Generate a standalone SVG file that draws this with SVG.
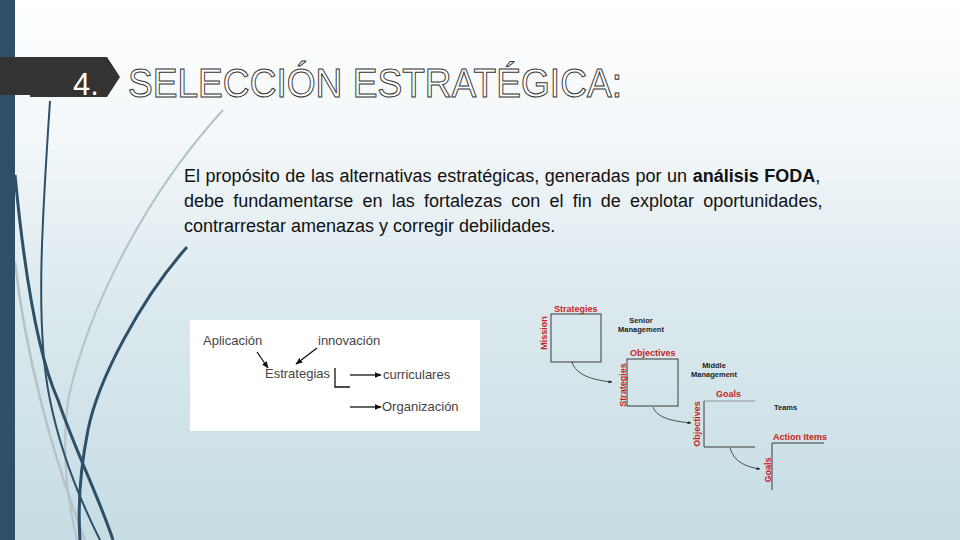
<svg xmlns="http://www.w3.org/2000/svg" width="960" height="540" viewBox="0 0 960 540">
<defs>
<linearGradient id="bg" x1="0" y1="0" x2="0" y2="1">
<stop offset="0" stop-color="#ffffff"/>
<stop offset="0.25" stop-color="#f3f7f9"/>
<stop offset="0.6" stop-color="#d9e8ed"/>
<stop offset="1" stop-color="#c6dde4"/>
</linearGradient>
<marker id="ah" viewBox="0 0 10 10" refX="9" refY="5" markerWidth="7" markerHeight="7" orient="auto" markerUnits="userSpaceOnUse">
<path d="M0,1 L10,5 L0,9 z" fill="#111"/>
</marker>
<marker id="ahs" viewBox="0 0 10 10" refX="9" refY="5" markerWidth="4" markerHeight="4" orient="auto" markerUnits="userSpaceOnUse">
<path d="M0,1 L10,5 L0,9 z" fill="#222"/>
</marker>
<style>
.para{font-family:"Liberation Sans",Arial,sans-serif;font-size:18px;fill:#111}
.lbl{font-family:"Liberation Sans",Arial,sans-serif;font-size:13px;fill:#444}
.red{font-family:"Liberation Sans",Arial,sans-serif;font-size:9px;font-weight:bold;fill:#c81e1e}
.blk{font-family:"Liberation Sans",Arial,sans-serif;font-size:7.5px;font-weight:bold;fill:#222}
.ln{stroke:#111;stroke-width:1.3;fill:none}
.box{stroke:#3a3a3a;stroke-width:1;fill:none}
.cv{stroke:#2a2a2a;stroke-width:0.8;fill:none}
.dk{stroke:#2d5068;fill:none}
.gr{stroke:#b4c3c8;fill:none}
</style>
</defs>
<rect x="0" y="0" width="960" height="540" fill="url(#bg)"/>
<g id="decor">
<path class="gr" stroke-width="2" d="M223,110 C150,190 90,300 68,400 C60,460 70,510 77,540"/>
<path class="gr" stroke-width="2.5" d="M15,262 C25,350 50,450 85,540"/>
<path class="dk" stroke-width="2" d="M50,101 C42,220 35,330 50,400 C62,460 85,510 100,540"/>
<path class="dk" stroke-width="3" d="M15,175 C25,280 40,360 58,400 C75,450 100,500 113,540"/>
<path class="dk" stroke-width="3" d="M187,247 C140,300 98,380 88,430 C80,470 78,510 80,540"/>
</g>
<rect x="0" y="0" width="15" height="540" fill="#2d5068"/>
<g id="title">
<path d="M0,57 L107,57 L120,77 L107,97 L30,97 L30,95 L0,95 z" fill="#333333"/>
<text x="73" y="95" font-family="'Liberation Sans',Arial,sans-serif" font-size="31" fill="#ffffff">4.</text>
<text x="128" y="97" font-family="'Liberation Sans',Arial,sans-serif" font-size="40" fill="#ffffff" stroke="#333" stroke-width="1" textLength="494" lengthAdjust="spacingAndGlyphs">SELECCIÓN ESTRATÉGICA:</text>
</g>
<g id="paragraph">
<text class="para" x="184" y="182" word-spacing="0.6">El propósito de las alternativas estratégicas, generadas por un <tspan font-weight="bold">análisis FODA</tspan>,</text>
<text class="para" x="184" y="207" word-spacing="4.2">debe fundamentarse en las fortalezas con el fin de explotar oportunidades,</text>
<text class="para" x="184" y="232">contrarrestar amenazas y corregir debilidades.</text>
</g>
<g id="estrategias-diagram">
<rect x="190" y="320" width="290" height="111" fill="#ffffff"/>
<g id="n-aplicacion"><text class="lbl" x="203" y="345">Aplicación</text></g>
<g id="n-innovacion"><text class="lbl" x="318" y="345">innovación</text></g>
<g id="n-estrategias"><text class="lbl" x="265" y="378">Estrategias</text></g>
<g id="n-curriculares"><text class="lbl" x="383" y="379">curriculares</text></g>
<g id="n-organizacion"><text class="lbl" x="382" y="411">Organización</text></g>
<g id="connectors-left">
<line class="ln" x1="257" y1="352" x2="268" y2="368" marker-end="url(#ah)"/>
<line class="ln" x1="317" y1="348" x2="296" y2="364" marker-end="url(#ah)"/>
<polyline class="ln" points="335,368 335,387 350,387"/>
<line class="ln" x1="350" y1="375" x2="381" y2="375" marker-end="url(#ah)"/>
<line class="ln" x1="350" y1="407" x2="381" y2="407" marker-end="url(#ah)"/>
</g>
</g>
<g id="staircase">
<g id="n-box1">
<rect class="box" x="551" y="314" width="50" height="48"/>
<text class="red" x="554" y="312">Strategies</text>
<text class="red" transform="translate(547,333) rotate(-90)" text-anchor="middle">Mission</text>
</g>
<g id="n-senior">
<text class="blk" x="641" y="323" text-anchor="middle">Senior</text>
<text class="blk" x="641" y="332" text-anchor="middle">Management</text>
</g>
<g id="n-box2">
<rect class="box" x="627" y="359" width="51" height="47"/>
<text class="red" x="630" y="356">Objectives</text>
<text class="red" transform="translate(626,385) rotate(-90)" text-anchor="middle">Strategies</text>
</g>
<g id="n-middle">
<text class="blk" x="714" y="368" text-anchor="middle">Middle</text>
<text class="blk" x="714" y="377" text-anchor="middle">Management</text>
</g>
<g id="n-box3">
<line x1="704" y1="401" x2="755" y2="401" stroke="#8a9499" stroke-width="1"/>
<polyline class="box" points="704,401 704,447 755,447"/>
<text class="red" x="716" y="397">Goals</text>
<text class="red" transform="translate(700,424) rotate(-90)" text-anchor="middle">Objectives</text>
</g>
<g id="n-teams">
<text class="blk" x="774" y="410">Teams</text>
</g>
<g id="n-box4">
<polyline class="box" points="772,490 772,443 824,443"/>
<text class="red" x="773" y="440">Action Items</text>
<text class="red" transform="translate(771,470) rotate(-90)" text-anchor="middle">Goals</text>
</g>
<g id="connectors-right">
<path class="cv" d="M572,362 C576,375 592,380 612,382" marker-end="url(#ahs)"/>
<path class="cv" d="M653,407 C657,418 672,421 691,423" marker-end="url(#ahs)"/>
<path class="cv" d="M730,448 C734,462 746,467 760,469" marker-end="url(#ahs)"/>
</g>
</g>
</svg>
